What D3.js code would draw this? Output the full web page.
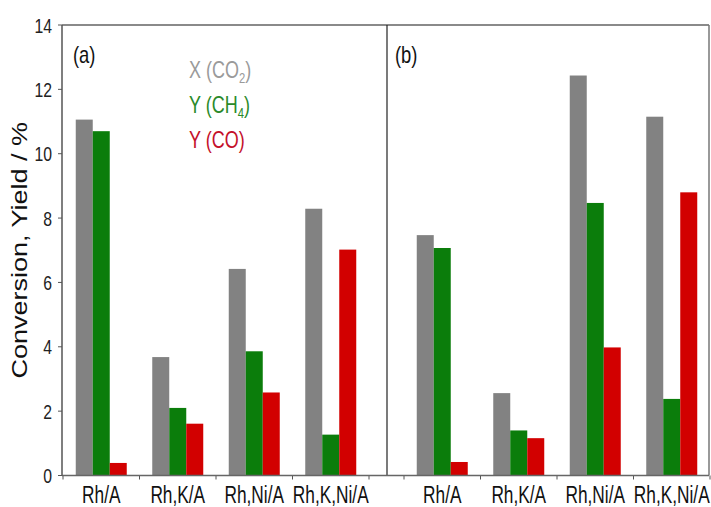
<!DOCTYPE html>
<html>
<head>
<meta charset="utf-8">
<script src="https://cdn.jsdelivr.net/npm/d3@7"></script>
<style>
html,body{margin:0;padding:0;background:#fff;}
text{font-family:"Liberation Sans",Arial,sans-serif;}
</style>
</head>
<body>
<svg id="chart" width="711" height="507"></svg>
<script>
const categories = ["Rh/A", "Rh,K/A", "Rh,Ni/A", "Rh,K,Ni/A"];
const seriesNames = ["X (CO2)", "Y (CH4)", "Y (CO)"];
const panelLabels = ["(a)", "(b)"];
// panel (a)
const aCO2conv = [11.06, 3.68, 6.42, 8.29];
const aCH4yield = [10.7, 2.1, 3.86, 1.27];
const aCOyield = [0.39, 1.61, 2.58, 7.02];
// panel (b)
const bCO2conv = [7.47, 2.56, 12.43, 11.15];
const bCH4yield = [7.07, 1.4, 8.47, 2.38];
const bCOyield = [0.42, 1.16, 3.98, 8.8];
const yTicks = [0, 2, 4, 6, 8, 10, 12, 14];

const barColors = ["#828282", "#0b7d0b", "#d20000"];
const legendColors = ["#9a9a9a", "#2a8a2a", "#c4102a"];

const svg = d3.select("#chart");
const pLeft = 62, pRight = 709, pTop = 25, pBottom = 475.5, divider = 387;
const y = d3.scaleLinear().domain([0, 14]).range([pBottom, pTop]);

const panels = [
  {label: panelLabels[0], range: [63, 369], data: [aCO2conv, aCH4yield, aCOyield]},
  {label: panelLabels[1], range: [404, 710], data: [bCO2conv, bCH4yield, bCOyield]}
];

panels.forEach((p, pi) => {
  const x0 = d3.scaleBand().domain(categories).range(p.range).paddingInner(1/3).paddingOuter(1/6);
  const x1 = d3.scaleBand().domain(d3.range(3)).range([0, x0.bandwidth()]);
  categories.forEach((c, ci) => {
    p.data.forEach((arr, si) => {
      svg.append("rect")
        .attr("x", x0(c) + x1(si))
        .attr("y", y(arr[ci]))
        .attr("width", x1.bandwidth())
        .attr("height", y(0) - y(arr[ci]))
        .attr("fill", barColors[si]);
    });
    svg.append("text")
      .attr("transform", `translate(${x0(c) + x0.bandwidth() / 2},503) scale(0.72,1)`)
      .attr("text-anchor", "middle")
      .attr("font-size", 24)
      .attr("fill", "#111")
      .text(c);
  });
  const step = x0.step();
  d3.range(5).forEach(i => {
    const tx = p.range[0] + i * step;
    svg.append("line").attr("x1", tx).attr("x2", tx).attr("y1", pBottom).attr("y2", pBottom + 4)
      .attr("stroke", "#555").attr("stroke-width", 1);
  });
  svg.append("text")
    .attr("transform", `translate(${pi === 0 ? 73 : 395},63) scale(0.8,1)`)
    .attr("font-size", 23)
    .attr("fill", "#111")
    .text(p.label);
});

// frame
svg.append("line").attr("x1", pLeft).attr("x2", pRight).attr("y1", pTop).attr("y2", pTop)
  .attr("stroke", "#8a8a8a").attr("stroke-width", 2);
svg.append("line").attr("x1", pRight).attr("x2", pRight).attr("y1", pTop).attr("y2", pBottom)
  .attr("stroke", "#777").attr("stroke-width", 1.5);
svg.append("line").attr("x1", divider).attr("x2", divider).attr("y1", pTop).attr("y2", pBottom)
  .attr("stroke", "#222").attr("stroke-width", 1.2);
svg.append("line").attr("x1", pLeft).attr("x2", pRight).attr("y1", pBottom).attr("y2", pBottom)
  .attr("stroke", "#666").attr("stroke-width", 1.5);
svg.append("line").attr("x1", pLeft).attr("x2", pLeft).attr("y1", pTop).attr("y2", pBottom)
  .attr("stroke", "#555").attr("stroke-width", 1.5);

// y ticks
yTicks.forEach(t => {
  svg.append("line").attr("x1", pLeft - 4).attr("x2", pLeft).attr("y1", y(t)).attr("y2", y(t))
    .attr("stroke", "#555");
  svg.append("text")
    .attr("transform", `translate(52,${y(t)}) scale(0.75,1)`)
    .attr("text-anchor", "end")
    .attr("dy", "0.36em")
    .attr("font-size", 21)
    .attr("fill", "#222")
    .text(t);
});

// y title
svg.append("text")
  .attr("transform", `translate(27,${(pTop + pBottom) / 2}) scale(0.8,1) rotate(-90)`)
  .attr("text-anchor", "middle")
  .attr("font-size", 27)
  .attr("fill", "#111")
  .text("Conversion, Yield / %");

// legend
const legendRows = [
  {t: "X (CO", sub: "2", close: ")"},
  {t: "Y (CH", sub: "4", close: ")"},
  {t: "Y (CO)", sub: "", close: ""}
];
legendRows.forEach((r, i) => {
  const tx = svg.append("text")
    .attr("transform", `translate(189,${78 + i * 35}) scale(0.75,1)`)
    .attr("font-size", 24)
    .attr("fill", legendColors[i]);
  tx.append("tspan").text(r.t);
  if (r.sub) {
    tx.append("tspan").attr("font-size", 15).attr("dy", 5).text(r.sub);
    tx.append("tspan").attr("dy", -5).text(r.close);
  }
});
</script>
</body>
</html>
